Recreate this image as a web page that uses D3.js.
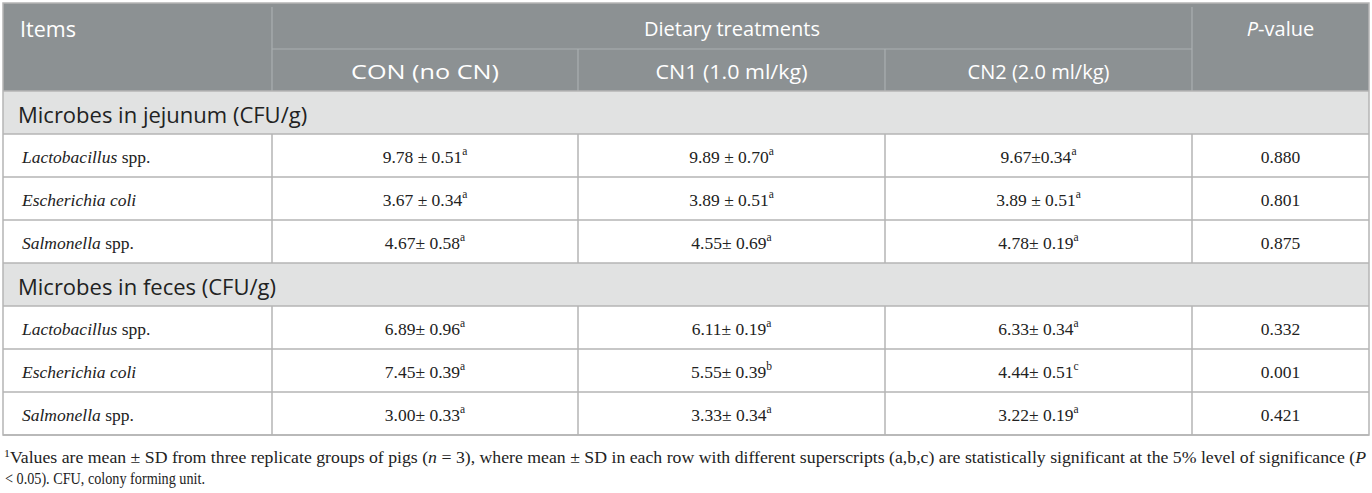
<!DOCTYPE html>
<html><head><meta charset="utf-8">
<script src="https://cdn.jsdelivr.net/npm/d3@7"></script>
<style>
html,body{margin:0;padding:0;background:#fff;}
svg{display:block;}
</style></head>
<body>
<svg id="chart" width="1372" height="493"></svg>
<script>
// ---------- data ----------
const columnHeaders = ["CON (no CN)", "CN1 (1.0 ml/kg)", "CN2 (2.0 ml/kg)"];
const sections = ["Microbes in jejunum (CFU/g)", "Microbes in feces (CFU/g)"];
const itemItalic = ["Lactobacillus", "Escherichia coli", "Salmonella"];
const itemPlain = [" spp.", "", " spp."];
// values per section (rows: Lactobacillus, E. coli, Salmonella)
const jejunumCON = ["9.78 ± 0.51", "3.67 ± 0.34", "4.67± 0.58"];
const jejunumCN1 = ["9.89 ± 0.70", "3.89 ± 0.51", "4.55± 0.69"];
const jejunumCN2 = ["9.67±0.34", "3.89 ± 0.51", "4.78± 0.19"];
const jejunumSup = [["a","a","a"],["a","a","a"],["a","a","a"]];
const jejunumP = ["0.880", "0.801", "0.875"];
const fecesCON = ["6.89± 0.96", "7.45± 0.39", "3.00± 0.33"];
const fecesCN1 = ["6.11± 0.19", "5.55± 0.39", "3.33± 0.34"];
const fecesCN2 = ["6.33± 0.34", "4.44± 0.51", "3.22± 0.19"];
const fecesSup = [["a","a","a"],["a","b","c"],["a","a","a"]];
const fecesP = ["0.332", "0.001", "0.421"];

// ---------- layout ----------
const svg = d3.select("#chart");
const colEdges = [3, 272, 578, 885, 1192, 1369];
const colX = i => colEdges[i];
const headerTop = 3, headerMid = 49, headerBottom = 91, rowH = 43;
const y = d3.scaleLinear().domain([0, 8]).range([headerBottom, headerBottom + 8 * rowH]);
const tableBottom = y(8);

const sans = "'Open Sans', 'Noto Sans', sans-serif";
const serif = "'Liberation Serif', 'DejaVu Serif', serif";
const gridColor = "#b5b5b5";
const subHeaderWidths = [148, 152, 142];

// header background
svg.append("rect").attr("x", colX(0)).attr("y", headerTop)
  .attr("width", colX(5) - colX(0)).attr("height", headerBottom - headerTop)
  .attr("fill", "#8c9193");

// header inner lines
const hl = "#aaafb1";
svg.append("line").attr("x1", colX(1)).attr("x2", colX(4)).attr("y1", headerMid).attr("y2", headerMid)
  .attr("stroke", hl).attr("stroke-width", 1.2);
[[1, headerTop + 4, headerBottom], [2, headerMid, headerBottom], [3, headerMid, headerBottom], [4, headerTop + 4, headerBottom]]
  .forEach(([c, a, b]) => svg.append("line").attr("x1", colX(c)).attr("x2", colX(c)).attr("y1", a).attr("y2", b)
    .attr("stroke", hl).attr("stroke-width", 1.2));

// header texts
const ht = svg.append("g").attr("fill", "#fff").attr("font-family", sans).attr("font-size", 20);
ht.append("text").attr("x", 20).attr("y", 28).attr("font-size", 21.5).attr("dominant-baseline", "central").text("Items");
ht.append("text").attr("x", (colX(1) + colX(4)) / 2).attr("y", 28).attr("text-anchor", "middle")
  .attr("dominant-baseline", "central").text("Dietary treatments");
const pv = ht.append("text").attr("x", (colX(4) + colX(5)) / 2).attr("y", 28).attr("text-anchor", "middle")
  .attr("dominant-baseline", "central");
pv.append("tspan").attr("font-style", "italic").text("P");
pv.append("tspan").text("-value");
columnHeaders.forEach((h, i) => {
  ht.append("text").attr("x", (colX(i + 1) + colX(i + 2)) / 2).attr("y", 71).attr("text-anchor", "middle")
    .attr("dominant-baseline", "central").attr("font-size", 20.5)
    .attr("textLength", subHeaderWidths[i]).attr("lengthAdjust", "spacingAndGlyphs").text(h);
});

// body rows
const sectionData = [
  {title: sections[0], cols: [jejunumCON, jejunumCN1, jejunumCN2], sup: jejunumSup, p: jejunumP},
  {title: sections[1], cols: [fecesCON, fecesCN1, fecesCN2], sup: fecesSup, p: fecesP}
];

sectionData.forEach((sec, si) => {
  const r0 = si * 4;
  svg.append("rect").attr("x", colX(0)).attr("y", y(r0)).attr("width", colX(5) - colX(0))
    .attr("height", rowH).attr("fill", "#e1e2e2");
  svg.append("text").attr("x", 18).attr("y", y(r0) + rowH / 2 + 1).attr("dominant-baseline", "central")
    .attr("font-family", sans).attr("font-size", 22).attr("fill", "#222").text(sec.title);
  itemItalic.forEach((it, k) => {
    const r = r0 + 1 + k;
    const cy = y(r) + rowH / 2 + 1;
    const t = svg.append("text").attr("x", 22).attr("y", cy).attr("dominant-baseline", "central")
      .attr("font-family", serif).attr("font-size", 17.5).attr("fill", "#222");
    t.append("tspan").attr("font-style", "italic").text(it);
    t.append("tspan").text(itemPlain[k]);
    sec.cols.forEach((col, c) => {
      const v = svg.append("text").attr("x", (colX(c + 1) + colX(c + 2)) / 2).attr("y", cy)
        .attr("text-anchor", "middle").attr("dominant-baseline", "central")
        .attr("font-family", serif).attr("font-size", 17.5).attr("fill", "#222");
      v.append("tspan").text(col[k]);
      v.append("tspan").attr("font-size", 11.5).attr("dy", -6).text(sec.sup[k][c]);
    });
    svg.append("text").attr("x", (colX(4) + colX(5)) / 2).attr("y", cy).attr("text-anchor", "middle")
      .attr("dominant-baseline", "central").attr("font-family", serif).attr("font-size", 17.5)
      .attr("fill", "#222").text(sec.p[k]);
  });
});

// grid lines in body
const g = svg.append("g").attr("stroke", gridColor).attr("stroke-width", 1.5);
d3.range(0, 9).forEach(r => {
  g.append("line").attr("x1", colX(0)).attr("x2", colX(5)).attr("y1", y(r)).attr("y2", y(r));
});
[0, 4].forEach(r0 => {
  [1, 2, 3, 4].forEach(c => {
    g.append("line").attr("x1", colX(c)).attr("x2", colX(c)).attr("y1", y(r0 + 1)).attr("y2", y(r0 + 4));
  });
});
// outer border
svg.append("rect").attr("x", colX(0)).attr("y", headerTop).attr("width", colX(5) - colX(0))
  .attr("height", tableBottom - headerTop).attr("fill", "none").attr("stroke", gridColor).attr("stroke-width", 1.5);

// footnote
const fn = svg.append("g").attr("font-family", serif).attr("font-size", 16.5).attr("fill", "#222");
const f1 = fn.append("text").attr("x", 4).attr("y", 463).attr("textLength", 1362).attr("lengthAdjust", "spacingAndGlyphs");
f1.append("tspan").attr("font-size", 11).attr("dy", -6).text("1");
f1.append("tspan").attr("dy", 6).text("Values are mean ± SD from three replicate groups of pigs (");
f1.append("tspan").attr("font-style", "italic").text("n");
f1.append("tspan").text(" = 3), where mean ± SD in each row with different superscripts (a,b,c) are statistically significant at the 5% level of significance (");
f1.append("tspan").attr("font-style", "italic").text("P");
fn.append("text").attr("x", 5).attr("y", 484).attr("textLength", 200).attr("lengthAdjust", "spacingAndGlyphs")
  .text("< 0.05). CFU, colony forming unit.");
</script>
</body></html>
